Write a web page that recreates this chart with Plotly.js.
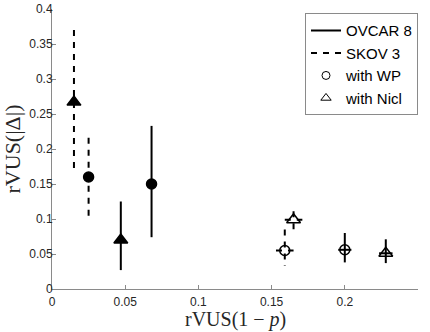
<!DOCTYPE html>
<html>
<head>
<meta charset="utf-8">
<script src="https://cdn.plot.ly/plotly-3.0.1.min.js"></script>
<style>
  html, body { margin: 0; padding: 0; background: #fff; }
  #chart { width: 430px; height: 332px; }
</style>
</head>
<body>
<div id="chart"></div>
<script>
// values
const cellLine = ["SKOV 3", "SKOV 3", "OVCAR 8", "OVCAR 8", "SKOV 3", "SKOV 3", "OVCAR 8", "OVCAR 8"];
const treatment = ["Nicl", "WP", "Nicl", "WP", "WP", "Nicl", "WP", "Nicl"];
const filled = [true, true, true, true, false, false, false, false];
const xVal = [0.015, 0.025, 0.047, 0.068, 0.159, 0.165, 0.200, 0.228];
const yVal = [0.267, 0.160, 0.070, 0.150, 0.055, 0.099, 0.056, 0.051];
const yLow = [0.170, 0.100, 0.027, 0.074, 0.033, 0.081, 0.038, 0.037];
const yHigh = [0.370, 0.216, 0.125, 0.233, 0.085, 0.111, 0.080, 0.071];
const xErr = [0.002, 0.002, 0.002, 0.0036, 0.006, 0.006, 0.0045, 0.0046];

const legendNames = ["OVCAR 8", "SKOV 3", "with WP", "with Nicl"];
const xTicks = [0, 0.05, 0.1, 0.15, 0.2, 0.25];
const yTicks = [0, 0.05, 0.1, 0.15, 0.2, 0.25, 0.3, 0.35, 0.4];

const DASH = "6px,6px";
const traces = [];

// legend only entries
traces.push({ x: [null], y: [null], mode: "lines", name: legendNames[0], line: { color: "black", width: 2 } });
traces.push({ x: [null], y: [null], mode: "lines", name: legendNames[1], line: { color: "black", width: 2, dash: DASH } });
traces.push({ x: [null], y: [null], mode: "markers", name: legendNames[2], marker: { symbol: "circle-open", size: 8, color: "black", line: { width: 1 } } });
traces.push({ x: [null], y: [null], mode: "markers", name: legendNames[3], marker: { symbol: "triangle-up-open", size: 9, color: "black", line: { width: 1 } } });

// error bars (dashed for SKOV 3)
for (let i = 0; i < xVal.length; i++) {
  const dash = cellLine[i] === "SKOV 3" ? DASH : "solid";
  traces.push({
    x: [xVal[i], xVal[i]], y: [yHigh[i], yLow[i]], mode: "lines", showlegend: false, hoverinfo: "skip",
    line: { color: "black", width: 2, dash: dash }
  });
  traces.push({
    x: [xVal[i] - xErr[i], xVal[i] + xErr[i]], y: [yVal[i], yVal[i]], mode: "lines", showlegend: false, hoverinfo: "skip",
    line: { color: "black", width: 2, dash: dash }
  });
}

// markers
for (let i = 0; i < xVal.length; i++) {
  let sym = treatment[i] === "WP" ? "circle" : "triangle-up";
  if (!filled[i]) sym += "-open";
  traces.push({
    x: [xVal[i]], y: [yVal[i]], mode: "markers", showlegend: false,
    name: cellLine[i] + " with " + treatment[i],
    marker: { symbol: sym, color: "black", size: treatment[i] === "WP" ? 10 : 12, line: { width: 1.5, color: "black" } }
  });
}

const axisCommon = {
  showgrid: false, zeroline: false, showline: true, linecolor: "#8a8a8a", linewidth: 1,
  ticks: "inside", ticklen: 4, tickcolor: "#8a8a8a",
  tickfont: { family: "Liberation Sans, Arial, sans-serif", size: 12, color: "#262626" }
};

const layout = {
  width: 430, height: 332,
  margin: { l: 52, r: 12, t: 9, b: 43 },
  paper_bgcolor: "white", plot_bgcolor: "white",
  xaxis: Object.assign({}, axisCommon, {
    range: [0, 0.25], tickvals: xTicks, ticklabelstandoff: 2
  }),
  yaxis: Object.assign({}, axisCommon, {
    range: [0, 0.4], tickvals: yTicks, ticklabelstandoff: -4,
    title: { text: "rVUS(|Δ|)", font: { family: "Liberation Serif, serif", size: 22, color: "#262626" }, standoff: 6 }
  }),
  annotations: [{
    text: "rVUS(1 − <i>p</i>)", xref: "paper", yref: "paper", x: 0.5, y: -0.11,
    xanchor: "center", yanchor: "middle", showarrow: false, borderpad: 0,
    font: { family: "Liberation Serif, serif", size: 20, color: "#262626" }
  }],
  legend: {
    x: 1, xanchor: "right", y: 0.985, yanchor: "top",
    bgcolor: "white", bordercolor: "#8a8a8a", borderwidth: 1,
    font: { family: "Liberation Sans, Arial, sans-serif", size: 15, color: "black" },
    itemwidth: 30, tracegroupgap: 0
  },
  showlegend: true
};

Plotly.newPlot("chart", traces, layout, { displayModeBar: false, staticPlot: true });
</script>
</body>
</html>
